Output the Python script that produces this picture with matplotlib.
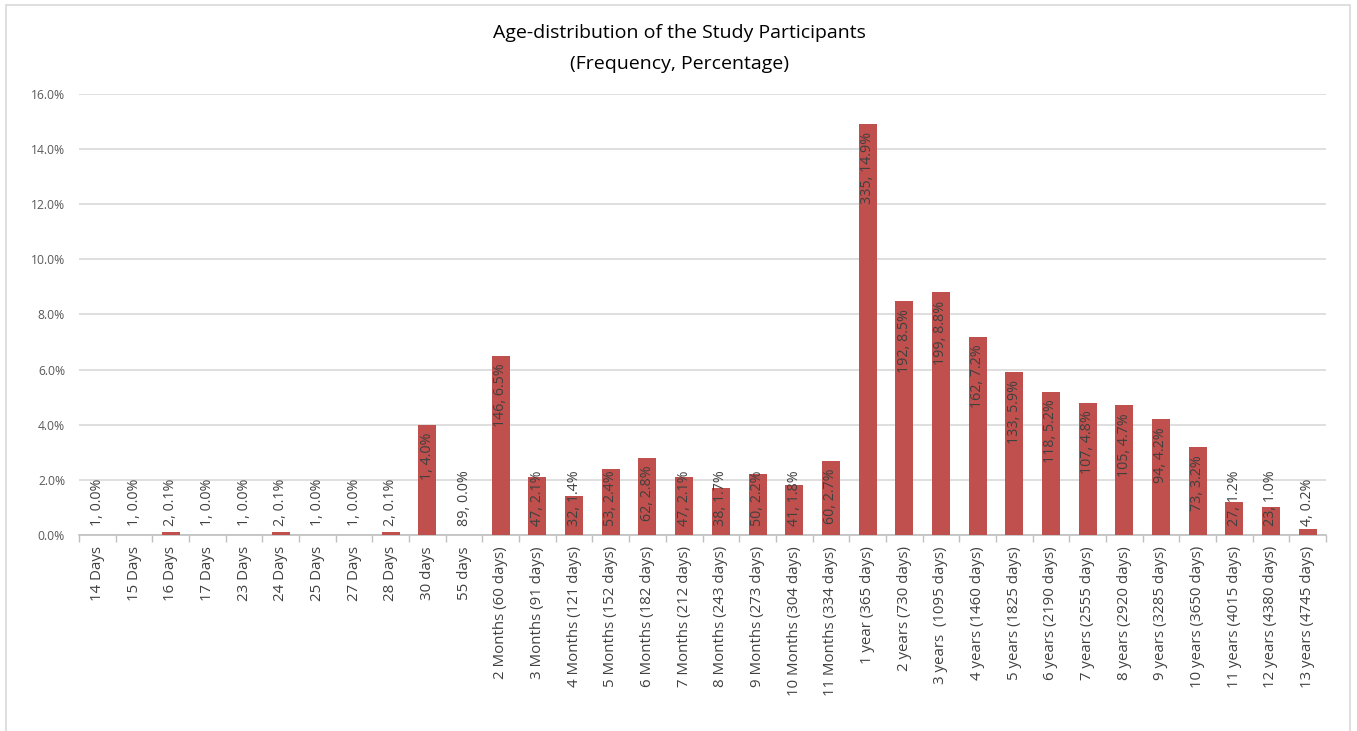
import numpy as np
import matplotlib
matplotlib.use("Agg")
from matplotlib import pyplot as plt
from matplotlib.patches import Rectangle

plt.rcParams['font.family'] = ['Open Sans', 'DejaVu Sans']

categories = ["14 Days", "15 Days", "16 Days", "17 Days", "23 Days", "24 Days", "25 Days",
              "27 Days", "28 Days", "30 days", "55 days",
              "2 Months (60 days)", "3 Months (91 days)", "4 Months (121 days)",
              "5 Months (152 days)", "6 Months (182 days)", "7 Months (212 days)",
              "8 Months (243 days)", "9 Months (273 days)", "10 Months (304 days)",
              "11 Months (334 days)", "1 year (365 days)", "2 years (730 days)",
              "3 years  (1095 days)", "4 years (1460 days)", "5 years (1825 days)",
              "6 years (2190 days)", "7 years (2555 days)", "8 years (2920 days)",
              "9 years (3285 days)", "10 years (3650 days)", "11 years (4015 days)",
              "12 years (4380 days)", "13 years (4745 days)"]
frequency = [1, 1, 2, 1, 1, 2, 1, 1, 2, 1, 89, 146, 47, 32, 53, 62, 47, 38, 50, 41, 60,
             335, 192, 199, 162, 133, 118, 107, 105, 94, 73, 27, 23, 4]
percentage = [0.0, 0.0, 0.1, 0.0, 0.0, 0.1, 0.0, 0.0, 0.1, 4.0, 0.0, 6.5, 2.1, 1.4, 2.4,
              2.8, 2.1, 1.7, 2.2, 1.8, 2.7, 14.9, 8.5, 8.8, 7.2, 5.9, 5.2, 4.8, 4.7, 4.2,
              3.2, 1.2, 1.0, 0.2]
y_ticks = [0, 2, 4, 6, 8, 10, 12, 14, 16]

W, H = 1357, 731
fig = plt.figure(figsize=(W / 100, H / 100), dpi=100)

# light frame around the chart area (bottom edge runs off the image)
fig.patches.append(Rectangle((6 / W, -10 / H), 1344 / W, 736 / H, transform=fig.transFigure,
                             fill=False, edgecolor='#d9d9d9', linewidth=1.2))

ax = fig.add_axes([79 / W, (H - 535) / H, (1326 - 79) / W, (535 - 94) / H])
x = np.arange(len(categories))
ax.bar(x, percentage, width=0.49, color='#c0504d', zorder=3)

ax.set_xlim(-0.5, len(categories) - 0.5)
ax.set_ylim(0, 16)
ax.set_yticks(y_ticks)
ax.set_yticklabels([f"{v:.1f}%" for v in y_ticks])
ax.yaxis.grid(True, color='#d9d9d9', linewidth=1.2, zorder=0)
ax.tick_params(axis='y', length=0, pad=10, labelsize=8.7, labelcolor='#595959')

ax.set_xticks(x)
ax.set_xticklabels(categories, rotation=90, fontsize=10.8, color='#404040')
ax.set_xticks(np.arange(-0.5, len(categories)), minor=True)
ax.tick_params(axis='x', which='major', length=0, pad=8)
ax.tick_params(axis='x', which='minor', length=5, color='#bfbfbf', width=1)

for side in ['top', 'right', 'left']:
    ax.spines[side].set_visible(False)
ax.spines['bottom'].set_color('#bfbfbf')
ax.spines['bottom'].set_linewidth(1.2)

fig.text(0.501, (H - 33) / H, "Age-distribution of the Study Participants",
         ha='center', va='center', fontsize=14, color='#000000')
fig.text(0.501, (H - 64) / H, "(Frequency, Percentage)",
         ha='center', va='center', fontsize=14, color='#000000')

# value labels: inside the top of the bar when they fit, otherwise from the baseline
renderer = fig.canvas.get_renderer()
for xi, f, p in zip(x, frequency, percentage):
    label = f"{f}, {p:.1f}%"
    t = ax.annotate(label, (xi, p), xytext=(0, -8), textcoords='offset pixels',
                    rotation=90, ha='center', va='top', fontsize=10.3, color='#404040',
                    zorder=4)
    ext = t.get_window_extent(renderer)
    bar_px = ax.transData.transform((xi, p))[1] - ax.transData.transform((xi, 0))[1]
    if bar_px - 8 < ext.height + 9:
        t.remove()
        ax.annotate(label, (xi, 0), xytext=(0, 9), textcoords='offset pixels',
                    rotation=90, ha='center', va='bottom', fontsize=10.3, color='#404040',
                    zorder=4)

fig.savefig("out.png", dpi=100)
